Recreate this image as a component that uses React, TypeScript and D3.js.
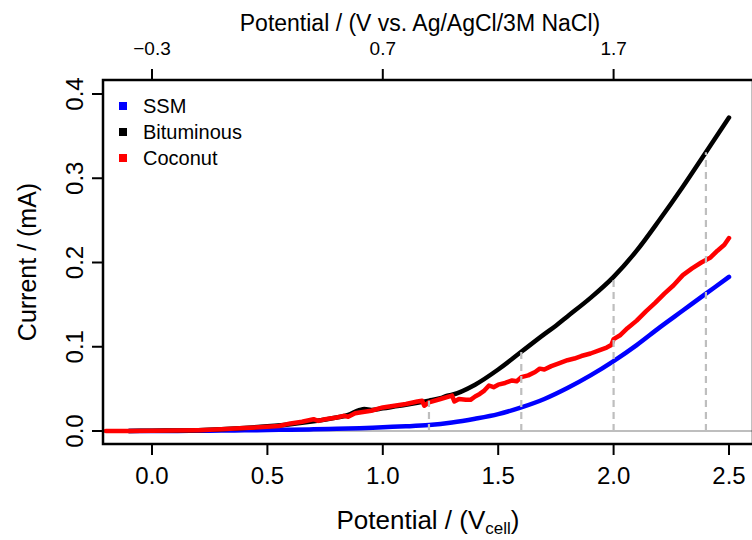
import React from "react";
import * as d3 from "d3";

const ssmX = [-0.1, 0.0, 0.1, 0.2, 0.3, 0.4, 0.5, 0.6, 0.7, 0.8, 0.9, 1.0, 1.1, 1.2, 1.3, 1.4, 1.5, 1.6, 1.7, 1.8, 1.9, 2.0, 2.1, 2.2, 2.3, 2.4, 2.5];
const ssmY = [0.0, 0.0, 0.0, 0.0003, 0.0005, 0.0008, 0.0012, 0.0016, 0.002, 0.0026, 0.0033, 0.0045, 0.0055, 0.007, 0.01, 0.0145, 0.02, 0.028, 0.038, 0.051, 0.066, 0.083, 0.102, 0.123, 0.143, 0.163, 0.183];

const bitX = [-0.1, 0.0, 0.1, 0.2, 0.3, 0.4, 0.5, 0.6, 0.7, 0.8, 0.85, 0.9, 0.92, 0.95, 1.0, 1.1, 1.2, 1.25, 1.28, 1.3, 1.4, 1.5, 1.6, 1.7, 1.75, 1.8, 1.9, 2.0, 2.1, 2.2, 2.3, 2.4, 2.5];
const bitY = [0.0, 0.0003, 0.0006, 0.001, 0.002, 0.0035, 0.0055, 0.008, 0.0115, 0.016, 0.019, 0.025, 0.026, 0.025, 0.027, 0.031, 0.036, 0.039, 0.042, 0.043, 0.055, 0.073, 0.094, 0.115, 0.125, 0.136, 0.158, 0.183, 0.214, 0.251, 0.29, 0.331, 0.372];

const cocX = [-0.2, -0.1, 0.0, 0.1, 0.2, 0.3, 0.4, 0.5, 0.55, 0.6, 0.65, 0.7, 0.72, 0.75, 0.8, 0.83, 0.85, 0.88, 0.9, 0.95, 1.0, 1.05, 1.1, 1.15, 1.17, 1.18, 1.2, 1.25, 1.3, 1.31, 1.33, 1.36, 1.38, 1.4, 1.42, 1.44, 1.46, 1.48, 1.5, 1.53, 1.56, 1.58, 1.6, 1.63, 1.66, 1.68, 1.7, 1.73, 1.76, 1.8, 1.83, 1.86, 1.9, 1.94, 1.97, 1.99, 2.0, 2.03, 2.06, 2.1, 2.14, 2.18, 2.22, 2.26, 2.3, 2.34, 2.38, 2.4, 2.42, 2.45, 2.48, 2.5];
const cocY = [0.0, 0.0, 0.0003, 0.0006, 0.001, 0.002, 0.0035, 0.005, 0.006, 0.009, 0.011, 0.014, 0.012, 0.014, 0.016, 0.018, 0.017, 0.021, 0.022, 0.024, 0.028, 0.03, 0.032, 0.035, 0.036, 0.03, 0.034, 0.038, 0.042, 0.035, 0.038, 0.037, 0.037, 0.041, 0.044, 0.048, 0.054, 0.052, 0.055, 0.057, 0.06, 0.059, 0.064, 0.066, 0.07, 0.074, 0.073, 0.077, 0.08, 0.084, 0.086, 0.089, 0.092, 0.096, 0.099, 0.102, 0.109, 0.114, 0.122, 0.131, 0.142, 0.152, 0.163, 0.173, 0.185, 0.193, 0.2, 0.203, 0.206, 0.214, 0.221, 0.229];

const xTicks = [0.0, 0.5, 1.0, 1.5, 2.0, 2.5];
const yTicks = [0.0, 0.1, 0.2, 0.3, 0.4];
const topTickPos = [0.0, 1.0, 2.0];
const topTickLabels = ["\u22120.3", "0.7", "1.7"];
const dashX = [1.2, 1.6, 2.0, 2.4];
const dashTop = [0.036, 0.094, 0.183, 0.331];

const seriesNames = ["SSM", "Bituminous", "Coconut"];
const seriesColors = ["#0000FF", "#000000", "#FF0000"];

const W = 752;
const H = 540;
const L = 103, R = 753, T = 80, B = 444;
const FONT = "'Liberation Sans', Arial, Helvetica, sans-serif";

export default function App() {
  const x = d3.scaleLinear().domain([0, 2.5]).range([152, 729]);
  const y = d3.scaleLinear().domain([0, 0.4]).range([431, 94]);

  const mk = (xs: number[], ys: number[]) => xs.map((v, i) => [v, ys[i]] as [number, number]);
  const lineSmooth = d3.line<[number, number]>().x(d => x(d[0])).y(d => y(d[1])).curve(d3.curveMonotoneX);
  const lineRaw = d3.line<[number, number]>().x(d => x(d[0])).y(d => y(d[1]));

  const ssm = mk(ssmX, ssmY);
  const bit = mk(bitX, bitY);
  const coc = mk(cocX, cocY);

  return (
    <svg width={W} height={H} style={{ position: "fixed", left: 0, top: 0, background: "#fff" }} fontFamily={FONT}>
      <defs>
        <clipPath id="plot">
          <rect x={L} y={T} width={R - L} height={B - T} />
        </clipPath>
      </defs>
      <rect x={0} y={0} width={W} height={H} fill="#fff" />
      <g clipPath="url(#plot)">
        <line x1={L} x2={R} y1={y(0)} y2={y(0)} stroke="#bebebe" strokeWidth={2.2} />
        <path d={lineSmooth(ssm) || ""} fill="none" stroke={seriesColors[0]} strokeWidth={4.5} strokeLinecap="round" strokeLinejoin="round" />
        <path d={lineSmooth(bit) || ""} fill="none" stroke={seriesColors[1]} strokeWidth={4.5} strokeLinecap="round" strokeLinejoin="round" />
        <path d={lineRaw(coc) || ""} fill="none" stroke={seriesColors[2]} strokeWidth={4.5} strokeLinecap="round" strokeLinejoin="round" />
        {dashX.map((d, i) => (
          <line key={i} x1={x(d)} x2={x(d)} y1={y(0)} y2={y(dashTop[i])} stroke="#bebebe" strokeWidth={2.2} strokeDasharray="7 5" />
        ))}
      </g>
      <rect x={L} y={T} width={R - L} height={B - T} fill="none" stroke="#000" strokeWidth={2.5} />
      {xTicks.map((t, i) => (
        <g key={i}>
          <line x1={x(t)} x2={x(t)} y1={B} y2={B + 11} stroke="#000" strokeWidth={2} />
          <text x={x(t)} y={484} fontSize={24} textAnchor="middle">{t.toFixed(1)}</text>
        </g>
      ))}
      {yTicks.map((t, i) => (
        <g key={i}>
          <line x1={L - 11} x2={L} y1={y(t)} y2={y(t)} stroke="#000" strokeWidth={2} />
          <text transform={`translate(83,${y(t)}) rotate(-90)`} fontSize={24} textAnchor="middle">{t.toFixed(1)}</text>
        </g>
      ))}
      {topTickPos.map((t, i) => (
        <g key={i}>
          <line x1={x(t)} x2={x(t)} y1={T} y2={T - 11} stroke="#000" strokeWidth={2} />
          <text x={x(t)} y={55} fontSize={19} textAnchor="middle">{topTickLabels[i]}</text>
        </g>
      ))}
      <text x={420} y={31} fontSize={23} textAnchor="middle">Potential / (V vs. Ag/AgCl/3M NaCl)</text>
      <text x={428} y={529} fontSize={26} textAnchor="middle">
        Potential / (V<tspan fontSize={17} dy={5}>cell</tspan><tspan dy={-5}>)</tspan>
      </text>
      <text transform={`translate(36,262) rotate(-90)`} fontSize={25} textAnchor="middle">Current / (mA)</text>
      {seriesNames.map((n, i) => (
        <g key={i}>
          <rect x={119} y={102 + i * 26} width={8} height={8} fill={seriesColors[i]} />
          <text x={143} y={113 + i * 26} fontSize={20}>{n}</text>
        </g>
      ))}
    </svg>
  );
}
